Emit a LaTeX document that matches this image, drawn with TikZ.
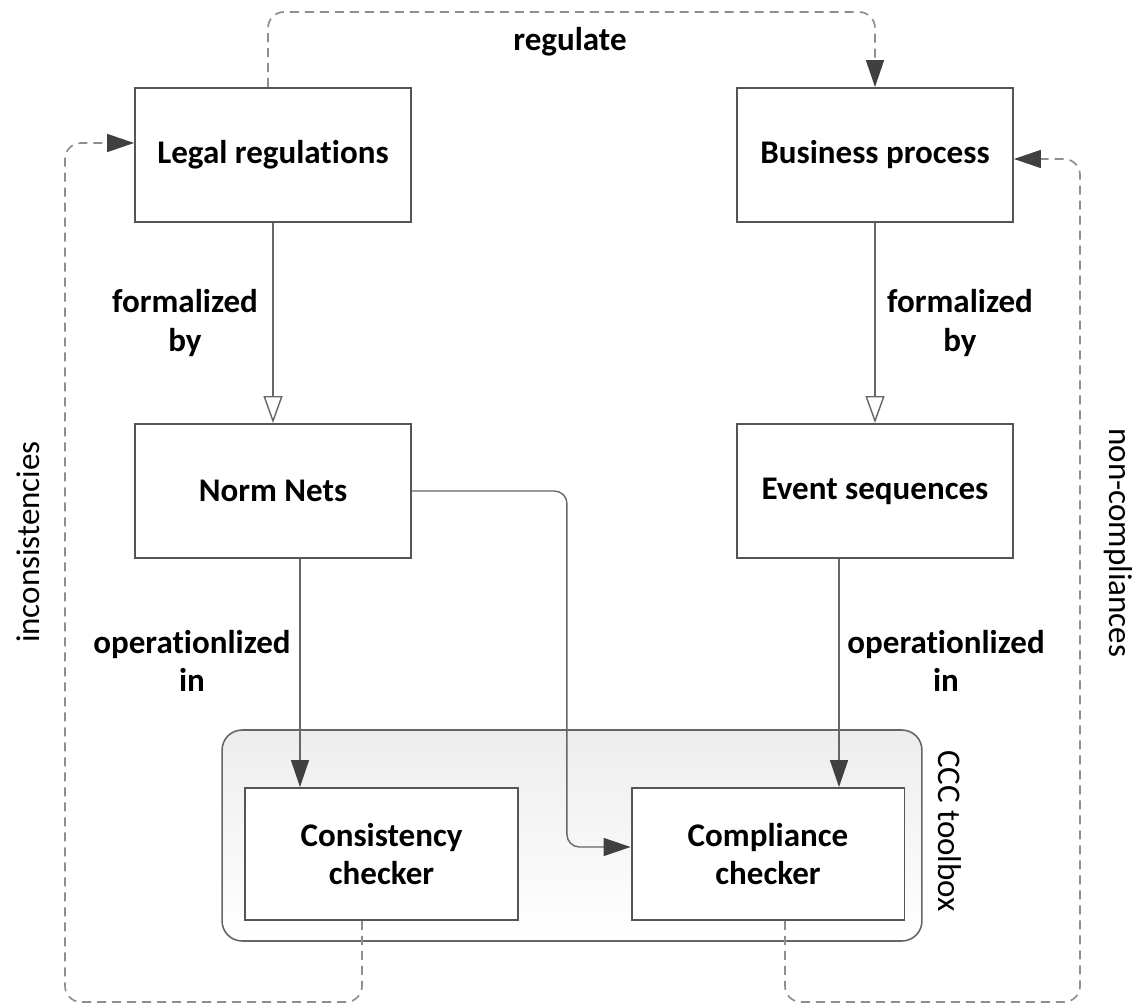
\documentclass[tikz,border=0pt]{standalone}
\usepackage{fontspec}
\setmainfont{Carlito}[Ligatures=NoCommon]
\usetikzlibrary{arrows.meta}
\definecolor{boxline}{HTML}{555555}
\definecolor{flowline}{HTML}{666666}
\definecolor{loopline}{HTML}{8E8E8E}
\definecolor{tipgray}{HTML}{404040}
\definecolor{txt}{HTML}{1A1A1A}
\begin{document}
\begin{tikzpicture}[x=0.02cm,y=-0.02cm,
    font=\fontsize{18.8}{22}\selectfont\color{txt},
    stage/.style={draw=boxline,line width=1.1pt,fill=white,minimum width=5.52cm,minimum height=2.68cm,align=center,font=\fontsize{18.8}{22}\selectfont\bfseries},
    checker/.style={stage,minimum width=5.46cm,minimum height=2.64cm},
    toolbox/.style={draw=flowline,line width=0.9pt,rounded corners=0.4cm,top color=gray!14,bottom color=white,minimum width=14cm,minimum height=4.22cm},
    lbl/.style={align=center,font=\fontsize{18.8}{22}\selectfont\bfseries},
    side/.style={font=\fontsize{18.8}{22}\selectfont},
    formal/.style={draw=flowline,line width=0.8pt,-{Triangle[length=0.54cm,width=0.38cm,fill=white]}},
    flow/.style={draw=flowline,line width=0.8pt,rounded corners=0.25cm,-{Triangle[length=0.54cm,width=0.36cm,color=tipgray]}},
    feedback/.style={draw=loopline,line width=0.95pt,dash pattern=on 0.18cm off 0.12cm,rounded corners=0.32cm,-{Triangle[length=0.54cm,width=0.36cm,color=tipgray]}}]
    \useasboundingbox (0,0) rectangle (1132,1004);

    \node[toolbox] (tbx) at (572,835.5) {};
    \node[side,rotate=-90] (tbxlbl) at (950,831) {CCC toolbox};

    \node[stage] (legal) at (273,155) {Legal regulations};
    \node[stage] (bus) at (875,155) {Business process};
    \node[stage] (norm) at (273,491) {Norm Nets};
    \node[stage] (event) at (875,491) {Event sequences};
    \node[checker] (cons) at (381.5,854) {Consistency\\checker};
    \node[checker] (comp) at (768,854) {Compliance\\checker};

    \draw[formal] (legal.south) -- (norm.north);
    \draw[formal] (bus.south) -- (event.north);
    \draw[flow] ([xshift=0.54cm]norm.south) -- ([xshift=0.54cm]norm.south |- cons.north);
    \draw[flow] ([xshift=-0.72cm]event.south) -- ([xshift=-0.72cm]event.south |- comp.north);
    \draw[flow] (norm.east) -- ++(155,0) |- ([yshift=0.14cm]comp.west);

    \draw[feedback] ([xshift=-0.1cm]legal.north) |- (570,12) -| (bus.north);
    \draw[feedback] ([xshift=-0.39cm]cons.south) |- (200,1002) -| (65,500) |- ([yshift=0.24cm]legal.west);
    \draw[feedback] ([xshift=0.34cm]comp.south) |- (900,1002) -| (1080,500) |- ([yshift=-0.08cm]bus.east);

    \node[lbl] (reglbl) at (570,42) {regulate};
    \node[lbl] (formlbl1) at (185,323) {formalized\\by};
    \node[lbl] (formlbl2) at (960,323) {formalized\\by};
    \node[lbl] (oplbl1) at (192,661) {operationlized\\in};
    \node[lbl] (oplbl2) at (946,661) {operationlized\\in};
    \node[side,rotate=90] (inclbl) at (28,542) {inconsistencies};
    \node[side,rotate=-90] (nclbl) at (1118,543) {non-compliances};
\end{tikzpicture}
\end{document}
